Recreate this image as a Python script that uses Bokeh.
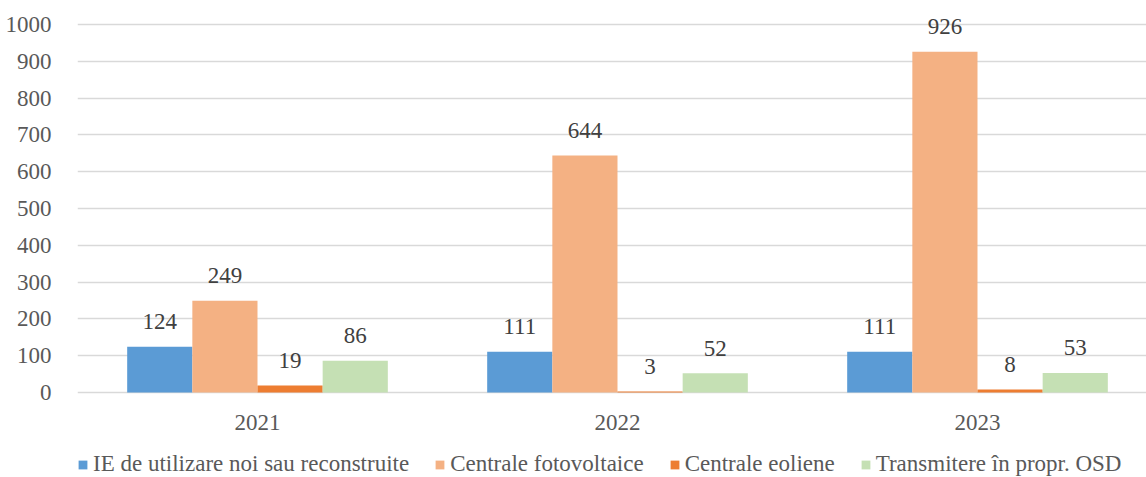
from bokeh.plotting import figure
from bokeh.models import ColumnDataSource, Legend, LegendItem, FixedTicker, Range1d
from bokeh.core.properties import value
from bokeh.embed import file_html
from bokeh.resources import INLINE

years = ["2021", "2022", "2023"]
series_names = ["IE de utilizare noi sau reconstruite", "Centrale fotovoltaice",
                "Centrale eoliene", "Transmitere în propr. OSD"]
ie_values = [124, 111, 111]
foto_values = [249, 644, 926]
eol_values = [19, 3, 8]
osd_values = [86, 52, 53]
y_ticks = [0, 100, 200, 300, 400, 500, 600, 700, 800, 900, 1000]

colors = ["#5B9BD5", "#F4B183", "#ED7D31", "#C5E0B4"]
offsets = [-0.2715, -0.0905, 0.0905, 0.2715]
bar_w = 0.181
FONT = "Liberation Serif"

W, H = 1146, 477
PX = 0.368  # pixels per unit
# frame spans the whole figure height, so the value labels, category labels and the legend
# all sit inside it
y_start = -(H - 392) / PX
y_end = 1000 + 24 / PX
p = figure(width=W, height=H, output_backend="svg", toolbar_location=None,
           x_range=Range1d(0, (W - 77) / 360), y_range=Range1d(y_start, y_end),
           x_axis_location=None,
           min_border_left=77, min_border_right=0, min_border_top=0, min_border_bottom=0)

centers = [i + 0.5 for i in range(len(years))]
items = []
for name, vals, col, off in zip(series_names, [ie_values, foto_values, eol_values, osd_values], colors, offsets):
    src = ColumnDataSource(dict(x=[c + off for c in centers], top=vals, lbl=[str(v) for v in vals]))
    r = p.vbar(x="x", top="top", width=bar_w, source=src, fill_color=col, line_color=None)
    p.text(x="x", y="top", text="lbl", source=src, text_align="center", text_baseline="alphabetic",
           y_offset=-25, text_font=value(FONT), text_font_size="23px", text_color="#404040")
    items.append(LegendItem(label=name, renderers=[r]))

# category labels
cat_src = ColumnDataSource(dict(x=centers, y=[0] * len(years), t=years))
p.text(x="x", y="y", text="t", source=cat_src, text_align="center", text_baseline="middle",
       y_offset=30, text_font=value(FONT), text_font_size="23px", text_color="#595959")

p.yaxis.ticker = FixedTicker(ticks=y_ticks)
p.yaxis.axis_line_color = None
p.yaxis.major_tick_line_color = None
p.yaxis.minor_tick_line_color = None
p.yaxis.major_label_text_font = FONT
p.yaxis.major_label_text_font_size = "23px"
p.yaxis.major_label_text_color = "#595959"
p.yaxis.major_label_standoff = 20
p.xgrid.grid_line_color = None
p.ygrid.grid_line_color = "#D9D9D9"
p.ygrid.grid_line_width = 1.5
p.outline_line_color = None

legend = Legend(items=items, orientation="horizontal", location=(0, 0),
                label_text_font=FONT, label_text_font_size="23px", label_text_color="#595959",
                glyph_width=11, glyph_height=11, label_standoff=5, spacing=25,
                border_line_color=None, background_fill_alpha=0, padding=0, margin=0)
p.add_layout(legend, "center")

open("out.html", "w").write(file_html(p, INLINE))
